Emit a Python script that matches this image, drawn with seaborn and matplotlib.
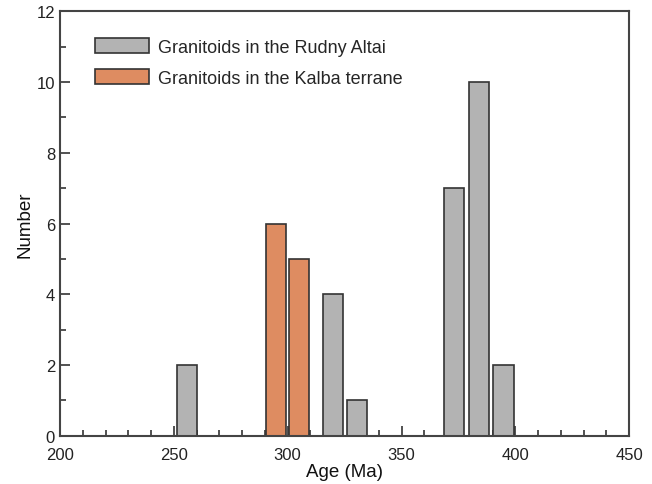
import matplotlib
matplotlib.use("Agg")
import matplotlib.pyplot as plt
from matplotlib.patches import Patch
from matplotlib.ticker import MultipleLocator
import seaborn as sns
import pandas as pd

# Age-bin centres (Ma) and counts for each granitoid group
rudny_age = [255.6, 319.8, 330.6, 373.1, 384.0, 394.8]
rudny_count = [2, 4, 1, 7, 10, 2]
kalba_age = [295.0, 305.0]
kalba_count = [6, 5]

group_names = ["Granitoids in the Rudny Altai", "Granitoids in the Kalba terrane"]
group_colors = ["#b3b3b3", "#de8c61"]

df = pd.DataFrame({
    "Age": rudny_age + kalba_age,
    "Number": rudny_count + kalba_count,
    "Group": [group_names[0]] * len(rudny_age) + [group_names[1]] * len(kalba_age),
})

sns.set_theme(style="ticks")
plt.rcParams["font.family"] = ["Liberation Sans", "DejaVu Sans"]

fig = plt.figure(figsize=(6.52, 4.85), dpi=100)
ax = fig.add_axes([0.092, 0.0996, 0.873, 0.875])

sns.barplot(
    data=df, x="Age", y="Number", hue="Group",
    palette=dict(zip(group_names, group_colors)), saturation=1,
    native_scale=True, dodge=False, width=0.88,
    edgecolor="#333333", linewidth=1.2, ax=ax, legend=False,
)

ax.set_xlim(200, 450)
ax.set_ylim(0, 12)
ax.xaxis.set_major_locator(MultipleLocator(50))
ax.xaxis.set_minor_locator(MultipleLocator(10))
ax.yaxis.set_major_locator(MultipleLocator(2))
ax.yaxis.set_minor_locator(MultipleLocator(1))
ax.tick_params(which="both", direction="in", color="#333333", width=1.2,
               labelsize=12, labelcolor="#222222")
ax.tick_params(which="major", length=7)
ax.tick_params(which="minor", length=4)
ax.tick_params(axis="x", pad=8)
for s in ax.spines.values():
    s.set_visible(True)
    s.set_color("#444444")
    s.set_linewidth(1.5)

ax.set_xlabel("Age (Ma)", fontsize=13.5, color="#111111", labelpad=1)
ax.set_ylabel("Number", fontsize=13.5, color="#111111", labelpad=2)

handles = [Patch(facecolor=c, edgecolor="#333333", linewidth=1.2, label=n)
           for n, c in zip(group_names, group_colors)]
ax.legend(handles=handles, loc="upper left", bbox_to_anchor=(0.0615, 0.936),
          frameon=False, fontsize=13, handlelength=3.0, handleheight=0.86,
          labelspacing=0.74, handletextpad=0.5, borderaxespad=0, borderpad=0)

fig.savefig("out.png", dpi=100)
